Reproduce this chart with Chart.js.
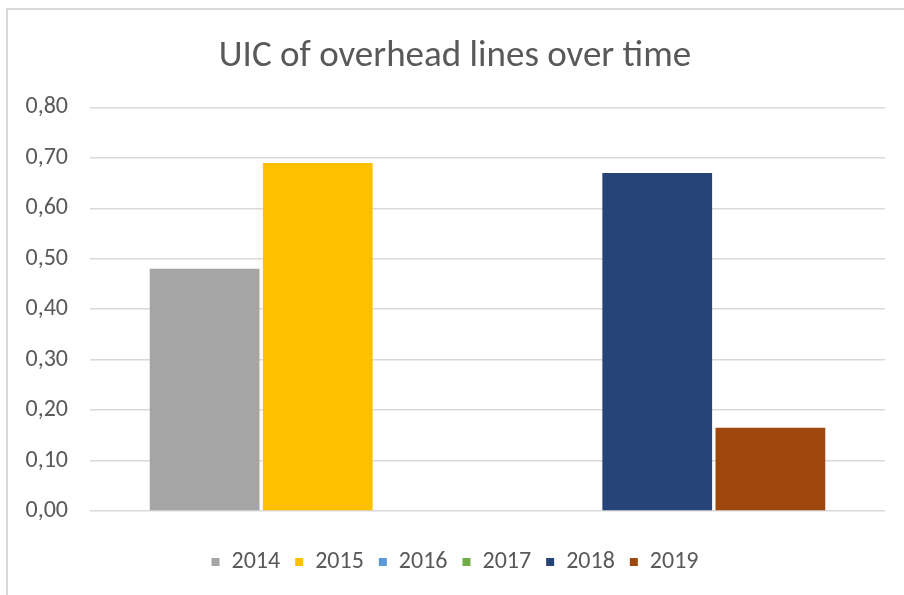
<!DOCTYPE html>
<html>
<head>
<meta charset="utf-8">
<script src="https://cdn.jsdelivr.net/npm/chart.js@4"></script>
<style>
  html, body { margin: 0; padding: 0; background: #fff; }
  #frame {
    position: absolute; left: 6px; top: 8px; width: 904px; height: 595px;
    border-top: 2px solid #d9d9d9; border-left: 2px solid #d9d9d9;
  }
  #wrap { position: absolute; left: 0; top: 0; width: 904px; height: 595px; }
</style>
</head>
<body>
<div id="frame"></div>
<div id="wrap"><canvas id="myChart" width="904" height="595"></canvas></div>
<script>
const categories = [''];
const years = ['2014', '2015', '2016', '2017', '2018', '2019'];
const values = [0.48, 0.69, 0, 0, 0.67, 0.165];
const colors = ['#A5A5A5', '#FFC000', '#5B9BD5', '#70AD47', '#264478', '#9E480E'];
const yTicks = [0, 0.1, 0.2, 0.3, 0.4, 0.5, 0.6, 0.7, 0.8];

const font = 'Carlito, "Open Sans", sans-serif';
const ctx = document.getElementById('myChart').getContext('2d');

const datasets = years.map((y, i) => ({
  label: y,
  data: [values[i]],
  backgroundColor: colors[i],
  borderWidth: 0,
  barPercentage: 0.97,
  categoryPercentage: 0.854
}));

const myChart = new Chart(ctx, {
  type: 'bar',
  data: { labels: categories, datasets: datasets },
  options: {
    responsive: false,
    animation: false,
    layout: { padding: { top: 35, right: 19, left: 25, bottom: 11 } },
    scales: {
      x: {
        ticks: { display: false },
        grid: { display: false },
        border: { display: false },
        afterFit: (axis) => { axis.height = 24; }
      },
      y: {
        min: 0,
        max: 0.8,
        afterBuildTicks: (axis) => { axis.ticks = yTicks.map(v => ({ value: v })); },
        afterFit: (axis) => { axis.width = 65; },
        ticks: {
          color: '#595959',
          font: { family: font, size: 24 },
          padding: 22,
          callback: (v) => v.toFixed(2).replace('.', ',')
        },
        grid: { color: '#d9d9d9', lineWidth: 1.5, drawTicks: false },
        border: { display: false }
      }
    },
    plugins: {
      title: {
        display: true,
        text: 'UIC of overhead lines over time',
        color: '#595959',
        font: { family: font, size: 37, weight: 'normal' },
        padding: { top: 0, bottom: 28 }
      },
      legend: {
        position: 'bottom',
        labels: {
          color: '#595959',
          font: { family: font, size: 24 },
          boxWidth: 8,
          boxHeight: 8,
          padding: 15
        }
      },
      tooltip: { enabled: false }
    }
  }
});
</script>
</body>
</html>
